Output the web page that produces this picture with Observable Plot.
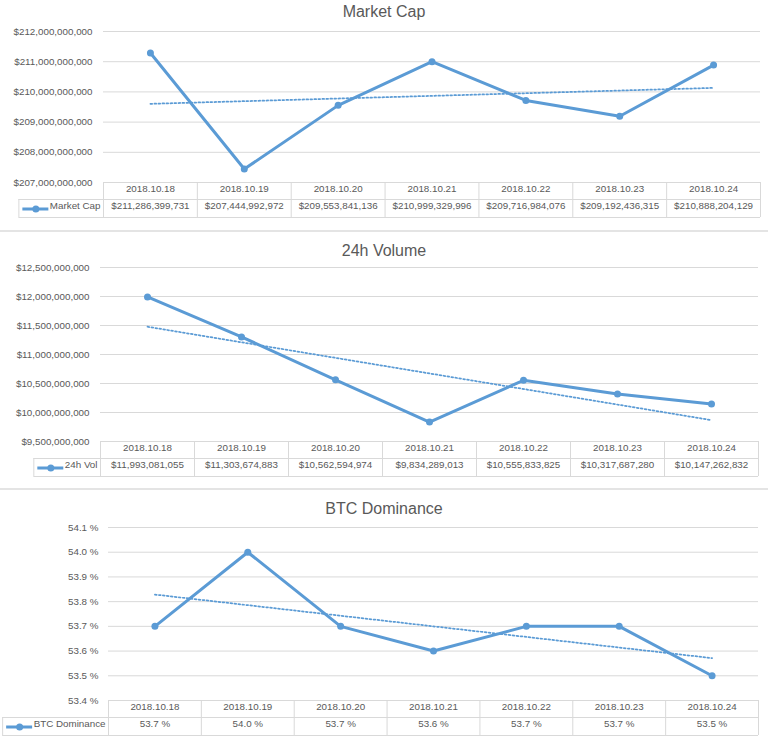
<!DOCTYPE html>
<html><head><meta charset="utf-8">
<script src="https://cdn.jsdelivr.net/npm/d3@7"></script>
<script src="https://cdn.jsdelivr.net/npm/@observablehq/plot@0.6"></script>
<style>
body{margin:0;background:#fff;width:768px;height:750px;overflow:hidden;position:relative;font-family:"Liberation Sans",Arial,sans-serif;}
.title{position:absolute;left:0;width:768px;text-align:center;font-size:16px;color:#595959;line-height:20px;}
.sep{position:absolute;left:0;width:768px;height:2px;background:#e4e4e4;}
.panel{position:absolute;left:0;}
</style></head><body>
<script>
const dates = ["2018.10.18","2018.10.19","2018.10.20","2018.10.21","2018.10.22","2018.10.23","2018.10.24"];
const marketCap = [211286399731, 207444992972, 209553841136, 210999329996, 209716984076, 209192436315, 210888204129];
const volume24h = [11993081055, 11303674883, 10562594974, 9834289013, 10555833825, 10317687280, 10147262832];
const btcDominance = [53.7, 54.0, 53.7, 53.6, 53.7, 53.7, 53.5];
const marketCapTicks = [207e9, 208e9, 209e9, 210e9, 211e9, 212e9];
const volumeTicks = [9.5e9, 10e9, 10.5e9, 11e9, 11.5e9, 12e9, 12.5e9];
const dominanceTicks = [53.4, 53.5, 53.6, 53.7, 53.8, 53.9, 54.0, 54.1];
const titles = ["Market Cap", "24h Volume", "BTC Dominance"];
const legendLabels = ["Market Cap", "24h Vol", "BTC Dominance"];

const blue = "#5b9bd5", grid = "#d9d9d9", textColor = "#595959";
const FONT = "Liberation Sans, Arial, sans-serif", FS = 9.8;
const dollar = v => "$" + d3.format(",")(v);
const pct = v => v.toFixed(1) + " %";

const panels = [
  {values: marketCap, ticks: marketCapTicks, fmt: dollar, title: titles[0], legend: legendLabels[0],
   titleTop: 2, top: 0, height: 219, marginTop: 31, marginLeft: 103, marginRight: 8, tickPadding: 11},
  {values: volume24h, ticks: volumeTicks, fmt: dollar, title: titles[1], legend: legendLabels[1],
   titleTop: 241, top: 232, height: 246, marginTop: 35, marginLeft: 100, marginRight: 10, tickPadding: 11},
  {values: btcDominance, ticks: dominanceTicks, fmt: pct, title: titles[2], legend: legendLabels[2],
   titleTop: 499, top: 490, height: 247, marginTop: 37, marginLeft: 108, marginRight: 10, tickPadding: 10}
];

const ctx = document.createElement("canvas").getContext("2d");
ctx.font = FS + "px " + FONT;

for (const sep of [230, 488]) {
  const d = document.createElement("div"); d.className = "sep"; d.style.top = sep + "px"; document.body.appendChild(d);
}

for (const p of panels) {
  const W = 768, MB = 37;
  const rows = p.values.map((v, i) => ({i, v, date: dates[i]}));
  const ymin = p.ticks[0], ymax = p.ticks[p.ticks.length - 1];
  const fh = p.height - p.marginTop - MB;
  const bounds = d3.range(-0.5, 7, 1);
  const tw = ctx.measureText(p.legend).width;
  const textStart = p.marginLeft - 3 - tw;
  const swX1 = textStart - 27, swX2 = textStart - 1, swDot = textStart - 14;
  const cellLeft = textStart - 31;

  const chart = Plot.plot({
    width: W, height: p.height, marginTop: p.marginTop, marginBottom: MB,
    marginLeft: p.marginLeft, marginRight: p.marginRight,
    x: {type: "linear", domain: [-0.5, 6.5], axis: null},
    y: {domain: [ymin, ymax], axis: null},
    style: {fontFamily: FONT, fontSize: FS + "px", color: textColor, background: "white", overflow: "visible"},
    marks: [
      Plot.gridY(p.ticks, {stroke: grid, strokeOpacity: 1}),
      Plot.axisY(p.ticks, {tickSize: 0, tickPadding: p.tickPadding, tickFormat: p.fmt, label: null}),
      // data table grid
      Plot.ruleX(bounds, {stroke: grid, insetTop: fh, insetBottom: -35}),
      Plot.ruleX([-0.5], {stroke: grid, dx: cellLeft - p.marginLeft, insetTop: fh + 17, insetBottom: -35}),
      Plot.ruleY([ymin], {stroke: grid, dy: 17, insetLeft: cellLeft - p.marginLeft}),
      Plot.ruleY([ymin], {stroke: grid, dy: 35, insetLeft: cellLeft - p.marginLeft}),
      // table text
      Plot.text(rows, {x: "i", text: "date", frameAnchor: "bottom", dy: 9, fill: textColor}),
      Plot.text(rows, {x: "i", text: d => p.fmt(d.v), frameAnchor: "bottom", dy: 26.5, fill: textColor}),
      Plot.text([p.legend], {text: d => d, frameAnchor: "bottom-left", dx: -3, dy: 26.5, textAnchor: "end", fill: textColor}),
      // legend swatch
      Plot.ruleY([ymin], {stroke: blue, strokeWidth: 3, dy: 26.5, insetLeft: swX1 - p.marginLeft, insetRight: W - p.marginRight - swX2}),
      Plot.dot([{x: -0.5, y: ymin}], {x: "x", y: "y", dx: swDot - p.marginLeft, dy: 26.5, r: 3.5, fill: blue, stroke: "none"}),
      // series
      Plot.linearRegressionY(rows, {x: "i", y: "v", stroke: blue, strokeWidth: 1.75, strokeDasharray: "1.75,2.25", ci: 0}),
      Plot.line(rows, {x: "i", y: "v", stroke: blue, strokeWidth: 3}),
      Plot.dot(rows, {x: "i", y: "v", r: 3.5, fill: blue, stroke: "none"})
    ]
  });
  const wrap = document.createElement("div");
  wrap.className = "panel"; wrap.style.top = p.top + "px";
  wrap.appendChild(chart);
  document.body.appendChild(wrap);
  const t = document.createElement("div");
  t.className = "title"; t.style.top = p.titleTop + "px"; t.textContent = p.title;
  document.body.appendChild(t);
}
</script>
</body></html>
